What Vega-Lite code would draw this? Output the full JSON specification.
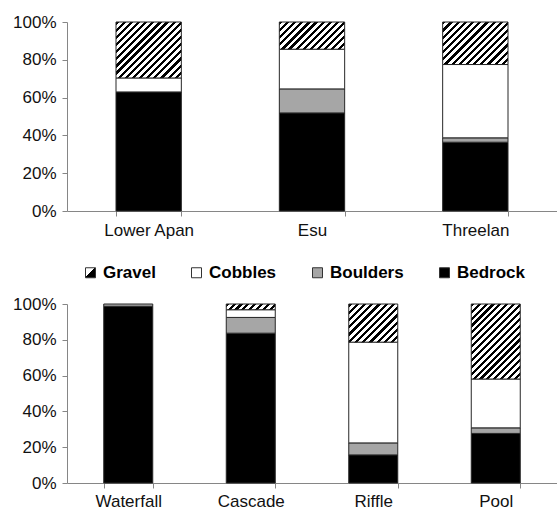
{
 "$schema": "https://vega.github.io/schema/vega-lite/v6.json",
 "padding": {"left": 12, "top": 13, "right": 0, "bottom": 0},
 "background": "white",
 "spacing": 26,
 "data": {"values": [
  {"panel": "Site", "site": "Lower Apan", "type": "Bedrock", "value": 63.0},
  {"panel": "Site", "site": "Lower Apan", "type": "Cobbles", "value": 7.4},
  {"panel": "Site", "site": "Lower Apan", "type": "Gravel", "value": 29.6},
  {"panel": "Site", "site": "Esu", "type": "Bedrock", "value": 51.9},
  {"panel": "Site", "site": "Esu", "type": "Boulders", "value": 12.7},
  {"panel": "Site", "site": "Esu", "type": "Cobbles", "value": 21.0},
  {"panel": "Site", "site": "Esu", "type": "Gravel", "value": 14.4},
  {"panel": "Site", "site": "Threelan", "type": "Bedrock", "value": 36.4},
  {"panel": "Site", "site": "Threelan", "type": "Boulders", "value": 2.3},
  {"panel": "Site", "site": "Threelan", "type": "Cobbles", "value": 38.8},
  {"panel": "Site", "site": "Threelan", "type": "Gravel", "value": 22.5},
  {"panel": "Unit", "site": "Waterfall", "type": "Bedrock", "value": 98.7},
  {"panel": "Unit", "site": "Waterfall", "type": "Boulders", "value": 1.3},
  {"panel": "Unit", "site": "Cascade", "type": "Bedrock", "value": 83.7},
  {"panel": "Unit", "site": "Cascade", "type": "Boulders", "value": 8.8},
  {"panel": "Unit", "site": "Cascade", "type": "Cobbles", "value": 4.3},
  {"panel": "Unit", "site": "Cascade", "type": "Gravel", "value": 3.2},
  {"panel": "Unit", "site": "Riffle", "type": "Bedrock", "value": 15.7},
  {"panel": "Unit", "site": "Riffle", "type": "Boulders", "value": 6.7},
  {"panel": "Unit", "site": "Riffle", "type": "Cobbles", "value": 56.3},
  {"panel": "Unit", "site": "Riffle", "type": "Gravel", "value": 21.3},
  {"panel": "Unit", "site": "Pool", "type": "Bedrock", "value": 27.7},
  {"panel": "Unit", "site": "Pool", "type": "Boulders", "value": 3.1},
  {"panel": "Unit", "site": "Pool", "type": "Cobbles", "value": 27.3},
  {"panel": "Unit", "site": "Pool", "type": "Gravel", "value": 41.9}
 ]},
 "config": {
  "view": {"stroke": null},
  "font": "Liberation Sans",
  "axis": {"labelFont": "Liberation Sans", "labelFontSize": 17, "labelColor": "#111111", "domainColor": "#868686", "tickColor": "#868686", "tickSize": 5, "labelPadding": 6, "grid": false, "title": null},
  "bar": {"stroke": "#262626", "strokeWidth": 1}
 },
 "resolve": {"legend": {"fill": "independent"}},
 "vconcat": [
  {
   "width": 490, "height": 189,
   "transform": [{"filter": "datum.panel === 'Site'"}],
   "mark": {"type": "bar"},
   "encoding": {
    "x": {"field": "site", "type": "nominal", "sort": ["Lower Apan", "Esu", "Threelan"], "scale": {"paddingInner": 0.6, "paddingOuter": 0.3}, "axis": {"labelAngle": 0, "tickBand": "extent", "title": null}},
    "y": {"field": "value", "type": "quantitative", "stack": "zero", "scale": {"domain": [0, 100], "nice": false}, "axis": {"values": [0, 20, 40, 60, 80, 100], "labelExpr": "datum.value + '%'", "title": null}},
    "order": {"field": "type", "sort": "ascending"},
    "fill": {
     "condition": [
      {"test": "datum.type === 'Gravel' && datum.site === 'Lower Apan'", "value": {"gradient": "linear", "x1": 0, "y1": 0, "x2": 1.0711, "y2": 0.9169, "stops": [{"offset":0,"color":"#000"},{"offset":0.0265,"color":"#000"},{"offset":0.0265,"color":"#fff"},{"offset":0.0588,"color":"#fff"},{"offset":0.0588,"color":"#000"},{"offset":0.0853,"color":"#000"},{"offset":0.0853,"color":"#fff"},{"offset":0.1176,"color":"#fff"},{"offset":0.1176,"color":"#000"},{"offset":0.1441,"color":"#000"},{"offset":0.1441,"color":"#fff"},{"offset":0.1765,"color":"#fff"},{"offset":0.1765,"color":"#000"},{"offset":0.2029,"color":"#000"},{"offset":0.2029,"color":"#fff"},{"offset":0.2353,"color":"#fff"},{"offset":0.2353,"color":"#000"},{"offset":0.2618,"color":"#000"},{"offset":0.2618,"color":"#fff"},{"offset":0.2941,"color":"#fff"},{"offset":0.2941,"color":"#000"},{"offset":0.3206,"color":"#000"},{"offset":0.3206,"color":"#fff"},{"offset":0.3529,"color":"#fff"},{"offset":0.3529,"color":"#000"},{"offset":0.3794,"color":"#000"},{"offset":0.3794,"color":"#fff"},{"offset":0.4118,"color":"#fff"},{"offset":0.4118,"color":"#000"},{"offset":0.4382,"color":"#000"},{"offset":0.4382,"color":"#fff"},{"offset":0.4706,"color":"#fff"},{"offset":0.4706,"color":"#000"},{"offset":0.4971,"color":"#000"},{"offset":0.4971,"color":"#fff"},{"offset":0.5294,"color":"#fff"},{"offset":0.5294,"color":"#000"},{"offset":0.5559,"color":"#000"},{"offset":0.5559,"color":"#fff"},{"offset":0.5882,"color":"#fff"},{"offset":0.5882,"color":"#000"},{"offset":0.6147,"color":"#000"},{"offset":0.6147,"color":"#fff"},{"offset":0.6471,"color":"#fff"},{"offset":0.6471,"color":"#000"},{"offset":0.6735,"color":"#000"},{"offset":0.6735,"color":"#fff"},{"offset":0.7059,"color":"#fff"},{"offset":0.7059,"color":"#000"},{"offset":0.7324,"color":"#000"},{"offset":0.7324,"color":"#fff"},{"offset":0.7647,"color":"#fff"},{"offset":0.7647,"color":"#000"},{"offset":0.7912,"color":"#000"},{"offset":0.7912,"color":"#fff"},{"offset":0.8235,"color":"#fff"},{"offset":0.8235,"color":"#000"},{"offset":0.85,"color":"#000"},{"offset":0.85,"color":"#fff"},{"offset":0.8824,"color":"#fff"},{"offset":0.8824,"color":"#000"},{"offset":0.9088,"color":"#000"},{"offset":0.9088,"color":"#fff"},{"offset":0.9412,"color":"#fff"},{"offset":0.9412,"color":"#000"},{"offset":0.9676,"color":"#000"},{"offset":0.9676,"color":"#fff"},{"offset":1,"color":"#fff"}]}},
      {"test": "datum.type === 'Gravel' && datum.site === 'Esu'", "value": {"gradient": "linear", "x1": 0, "y1": 0, "x2": 1.2071, "y2": 0.5028, "stops": [{"offset":0,"color":"#000"},{"offset":0.0346,"color":"#000"},{"offset":0.0346,"color":"#fff"},{"offset":0.0769,"color":"#fff"},{"offset":0.0769,"color":"#000"},{"offset":0.1115,"color":"#000"},{"offset":0.1115,"color":"#fff"},{"offset":0.1538,"color":"#fff"},{"offset":0.1538,"color":"#000"},{"offset":0.1885,"color":"#000"},{"offset":0.1885,"color":"#fff"},{"offset":0.2308,"color":"#fff"},{"offset":0.2308,"color":"#000"},{"offset":0.2654,"color":"#000"},{"offset":0.2654,"color":"#fff"},{"offset":0.3077,"color":"#fff"},{"offset":0.3077,"color":"#000"},{"offset":0.3423,"color":"#000"},{"offset":0.3423,"color":"#fff"},{"offset":0.3846,"color":"#fff"},{"offset":0.3846,"color":"#000"},{"offset":0.4192,"color":"#000"},{"offset":0.4192,"color":"#fff"},{"offset":0.4615,"color":"#fff"},{"offset":0.4615,"color":"#000"},{"offset":0.4962,"color":"#000"},{"offset":0.4962,"color":"#fff"},{"offset":0.5385,"color":"#fff"},{"offset":0.5385,"color":"#000"},{"offset":0.5731,"color":"#000"},{"offset":0.5731,"color":"#fff"},{"offset":0.6154,"color":"#fff"},{"offset":0.6154,"color":"#000"},{"offset":0.65,"color":"#000"},{"offset":0.65,"color":"#fff"},{"offset":0.6923,"color":"#fff"},{"offset":0.6923,"color":"#000"},{"offset":0.7269,"color":"#000"},{"offset":0.7269,"color":"#fff"},{"offset":0.7692,"color":"#fff"},{"offset":0.7692,"color":"#000"},{"offset":0.8038,"color":"#000"},{"offset":0.8038,"color":"#fff"},{"offset":0.8462,"color":"#fff"},{"offset":0.8462,"color":"#000"},{"offset":0.8808,"color":"#000"},{"offset":0.8808,"color":"#fff"},{"offset":0.9231,"color":"#fff"},{"offset":0.9231,"color":"#000"},{"offset":0.9577,"color":"#000"},{"offset":0.9577,"color":"#fff"},{"offset":1,"color":"#fff"}]}},
      {"test": "datum.type === 'Gravel' && datum.site === 'Threelan'", "value": {"gradient": "linear", "x1": 0, "y1": 0, "x2": 1.1596, "y2": 0.7547, "stops": [{"offset":0,"color":"#000"},{"offset":0.03,"color":"#000"},{"offset":0.03,"color":"#fff"},{"offset":0.0667,"color":"#fff"},{"offset":0.0667,"color":"#000"},{"offset":0.0967,"color":"#000"},{"offset":0.0967,"color":"#fff"},{"offset":0.1333,"color":"#fff"},{"offset":0.1333,"color":"#000"},{"offset":0.1633,"color":"#000"},{"offset":0.1633,"color":"#fff"},{"offset":0.2,"color":"#fff"},{"offset":0.2,"color":"#000"},{"offset":0.23,"color":"#000"},{"offset":0.23,"color":"#fff"},{"offset":0.2667,"color":"#fff"},{"offset":0.2667,"color":"#000"},{"offset":0.2967,"color":"#000"},{"offset":0.2967,"color":"#fff"},{"offset":0.3333,"color":"#fff"},{"offset":0.3333,"color":"#000"},{"offset":0.3633,"color":"#000"},{"offset":0.3633,"color":"#fff"},{"offset":0.4,"color":"#fff"},{"offset":0.4,"color":"#000"},{"offset":0.43,"color":"#000"},{"offset":0.43,"color":"#fff"},{"offset":0.4667,"color":"#fff"},{"offset":0.4667,"color":"#000"},{"offset":0.4967,"color":"#000"},{"offset":0.4967,"color":"#fff"},{"offset":0.5333,"color":"#fff"},{"offset":0.5333,"color":"#000"},{"offset":0.5633,"color":"#000"},{"offset":0.5633,"color":"#fff"},{"offset":0.6,"color":"#fff"},{"offset":0.6,"color":"#000"},{"offset":0.63,"color":"#000"},{"offset":0.63,"color":"#fff"},{"offset":0.6667,"color":"#fff"},{"offset":0.6667,"color":"#000"},{"offset":0.6967,"color":"#000"},{"offset":0.6967,"color":"#fff"},{"offset":0.7333,"color":"#fff"},{"offset":0.7333,"color":"#000"},{"offset":0.7633,"color":"#000"},{"offset":0.7633,"color":"#fff"},{"offset":0.8,"color":"#fff"},{"offset":0.8,"color":"#000"},{"offset":0.83,"color":"#000"},{"offset":0.83,"color":"#fff"},{"offset":0.8667,"color":"#fff"},{"offset":0.8667,"color":"#000"},{"offset":0.8967,"color":"#000"},{"offset":0.8967,"color":"#fff"},{"offset":0.9333,"color":"#fff"},{"offset":0.9333,"color":"#000"},{"offset":0.9633,"color":"#000"},{"offset":0.9633,"color":"#fff"},{"offset":1,"color":"#fff"}]}}
     ],
     "field": "type", "type": "nominal",
     "scale": {"domain": ["Gravel", "Cobbles", "Boulders", "Bedrock"], "range": [{"expr": "{gradient: 'linear', x1: 0, y1: 0, x2: 1, y2: 1, stops: [{offset: 0, color: '#fff'}, {offset: 0.45, color: '#fff'}, {offset: 0.45, color: '#000'}, {offset: 1, color: '#000'}]}"}, "#ffffff", "#a6a6a6", "#000000"]},
     "legend": null
    }
   }
  },
  {
   "width": 490, "height": 179,
   "transform": [{"filter": "datum.panel === 'Unit'"}],
   "mark": {"type": "bar"},
   "encoding": {
    "x": {"field": "site", "type": "nominal", "sort": ["Waterfall", "Cascade", "Riffle", "Pool"], "scale": {"paddingInner": 0.6, "paddingOuter": 0.3}, "axis": {"labelAngle": 0, "tickBand": "extent", "title": null, "labelPadding": 5}},
    "y": {"field": "value", "type": "quantitative", "stack": "zero", "scale": {"domain": [0, 100], "nice": false}, "axis": {"values": [0, 20, 40, 60, 80, 100], "labelExpr": "datum.value + '%'", "title": null}},
    "order": {"field": "type", "sort": "ascending"},
    "fill": {
     "condition": [
      {"test": "datum.type === 'Gravel' && datum.site === 'Cascade'", "value": {"gradient": "linear", "x1": 0, "y1": 0, "x2": 1.1014, "y2": 0.1281, "stops": [{"offset":0,"color":"#000"},{"offset":0.0563,"color":"#000"},{"offset":0.0563,"color":"#fff"},{"offset":0.125,"color":"#fff"},{"offset":0.125,"color":"#000"},{"offset":0.1813,"color":"#000"},{"offset":0.1813,"color":"#fff"},{"offset":0.25,"color":"#fff"},{"offset":0.25,"color":"#000"},{"offset":0.3063,"color":"#000"},{"offset":0.3063,"color":"#fff"},{"offset":0.375,"color":"#fff"},{"offset":0.375,"color":"#000"},{"offset":0.4313,"color":"#000"},{"offset":0.4313,"color":"#fff"},{"offset":0.5,"color":"#fff"},{"offset":0.5,"color":"#000"},{"offset":0.5563,"color":"#000"},{"offset":0.5563,"color":"#fff"},{"offset":0.625,"color":"#fff"},{"offset":0.625,"color":"#000"},{"offset":0.6813,"color":"#000"},{"offset":0.6813,"color":"#fff"},{"offset":0.75,"color":"#fff"},{"offset":0.75,"color":"#000"},{"offset":0.8063,"color":"#000"},{"offset":0.8063,"color":"#fff"},{"offset":0.875,"color":"#fff"},{"offset":0.875,"color":"#000"},{"offset":0.9313,"color":"#000"},{"offset":0.9313,"color":"#fff"},{"offset":1,"color":"#fff"}]}},
      {"test": "datum.type === 'Gravel' && datum.site === 'Riffle'", "value": {"gradient": "linear", "x1": 0, "y1": 0, "x2": 1.1078, "y2": 0.8614, "stops": [{"offset":0,"color":"#000"},{"offset":0.0375,"color":"#000"},{"offset":0.0375,"color":"#fff"},{"offset":0.0833,"color":"#fff"},{"offset":0.0833,"color":"#000"},{"offset":0.1208,"color":"#000"},{"offset":0.1208,"color":"#fff"},{"offset":0.1667,"color":"#fff"},{"offset":0.1667,"color":"#000"},{"offset":0.2042,"color":"#000"},{"offset":0.2042,"color":"#fff"},{"offset":0.25,"color":"#fff"},{"offset":0.25,"color":"#000"},{"offset":0.2875,"color":"#000"},{"offset":0.2875,"color":"#fff"},{"offset":0.3333,"color":"#fff"},{"offset":0.3333,"color":"#000"},{"offset":0.3708,"color":"#000"},{"offset":0.3708,"color":"#fff"},{"offset":0.4167,"color":"#fff"},{"offset":0.4167,"color":"#000"},{"offset":0.4542,"color":"#000"},{"offset":0.4542,"color":"#fff"},{"offset":0.5,"color":"#fff"},{"offset":0.5,"color":"#000"},{"offset":0.5375,"color":"#000"},{"offset":0.5375,"color":"#fff"},{"offset":0.5833,"color":"#fff"},{"offset":0.5833,"color":"#000"},{"offset":0.6208,"color":"#000"},{"offset":0.6208,"color":"#fff"},{"offset":0.6667,"color":"#fff"},{"offset":0.6667,"color":"#000"},{"offset":0.7042,"color":"#000"},{"offset":0.7042,"color":"#fff"},{"offset":0.75,"color":"#fff"},{"offset":0.75,"color":"#000"},{"offset":0.7875,"color":"#000"},{"offset":0.7875,"color":"#fff"},{"offset":0.8333,"color":"#fff"},{"offset":0.8333,"color":"#000"},{"offset":0.8708,"color":"#000"},{"offset":0.8708,"color":"#fff"},{"offset":0.9167,"color":"#fff"},{"offset":0.9167,"color":"#000"},{"offset":0.9542,"color":"#000"},{"offset":0.9542,"color":"#fff"},{"offset":1,"color":"#fff"}]}},
      {"test": "datum.type === 'Gravel' && datum.site === 'Pool'", "value": {"gradient": "linear", "x1": 0, "y1": 0, "x2": 0.757, "y2": 1.1587, "stops": [{"offset":0,"color":"#000"},{"offset":0.025,"color":"#000"},{"offset":0.025,"color":"#fff"},{"offset":0.0556,"color":"#fff"},{"offset":0.0556,"color":"#000"},{"offset":0.0806,"color":"#000"},{"offset":0.0806,"color":"#fff"},{"offset":0.1111,"color":"#fff"},{"offset":0.1111,"color":"#000"},{"offset":0.1361,"color":"#000"},{"offset":0.1361,"color":"#fff"},{"offset":0.1667,"color":"#fff"},{"offset":0.1667,"color":"#000"},{"offset":0.1917,"color":"#000"},{"offset":0.1917,"color":"#fff"},{"offset":0.2222,"color":"#fff"},{"offset":0.2222,"color":"#000"},{"offset":0.2472,"color":"#000"},{"offset":0.2472,"color":"#fff"},{"offset":0.2778,"color":"#fff"},{"offset":0.2778,"color":"#000"},{"offset":0.3028,"color":"#000"},{"offset":0.3028,"color":"#fff"},{"offset":0.3333,"color":"#fff"},{"offset":0.3333,"color":"#000"},{"offset":0.3583,"color":"#000"},{"offset":0.3583,"color":"#fff"},{"offset":0.3889,"color":"#fff"},{"offset":0.3889,"color":"#000"},{"offset":0.4139,"color":"#000"},{"offset":0.4139,"color":"#fff"},{"offset":0.4444,"color":"#fff"},{"offset":0.4444,"color":"#000"},{"offset":0.4694,"color":"#000"},{"offset":0.4694,"color":"#fff"},{"offset":0.5,"color":"#fff"},{"offset":0.5,"color":"#000"},{"offset":0.525,"color":"#000"},{"offset":0.525,"color":"#fff"},{"offset":0.5556,"color":"#fff"},{"offset":0.5556,"color":"#000"},{"offset":0.5806,"color":"#000"},{"offset":0.5806,"color":"#fff"},{"offset":0.6111,"color":"#fff"},{"offset":0.6111,"color":"#000"},{"offset":0.6361,"color":"#000"},{"offset":0.6361,"color":"#fff"},{"offset":0.6667,"color":"#fff"},{"offset":0.6667,"color":"#000"},{"offset":0.6917,"color":"#000"},{"offset":0.6917,"color":"#fff"},{"offset":0.7222,"color":"#fff"},{"offset":0.7222,"color":"#000"},{"offset":0.7472,"color":"#000"},{"offset":0.7472,"color":"#fff"},{"offset":0.7778,"color":"#fff"},{"offset":0.7778,"color":"#000"},{"offset":0.8028,"color":"#000"},{"offset":0.8028,"color":"#fff"},{"offset":0.8333,"color":"#fff"},{"offset":0.8333,"color":"#000"},{"offset":0.8583,"color":"#000"},{"offset":0.8583,"color":"#fff"},{"offset":0.8889,"color":"#fff"},{"offset":0.8889,"color":"#000"},{"offset":0.9139,"color":"#000"},{"offset":0.9139,"color":"#fff"},{"offset":0.9444,"color":"#fff"},{"offset":0.9444,"color":"#000"},{"offset":0.9694,"color":"#000"},{"offset":0.9694,"color":"#fff"},{"offset":1,"color":"#fff"}]}}
     ],
     "field": "type", "type": "nominal",
     "scale": {"domain": ["Gravel", "Cobbles", "Boulders", "Bedrock"], "range": [{"expr": "{gradient: 'linear', x1: 0, y1: 0, x2: 1, y2: 1, stops: [{offset: 0, color: '#fff'}, {offset: 0.45, color: '#fff'}, {offset: 0.45, color: '#000'}, {offset: 1, color: '#000'}]}"}, "#ffffff", "#a6a6a6", "#000000"]},
     "legend": {"orient": "none", "legendX": 15, "legendY": -40, "direction": "horizontal", "title": null, "symbolType": "square", "symbolSize": 100, "symbolStrokeColor": "#333333", "symbolStrokeWidth": 1, "symbolOpacity": 1, "labelFont": "Liberation Sans", "labelFontSize": 17, "labelFontWeight": "bold", "labelColor": "#000000", "labelOffset": 4, "columnPadding": 32}
    }
   }
  }
 ]
}
